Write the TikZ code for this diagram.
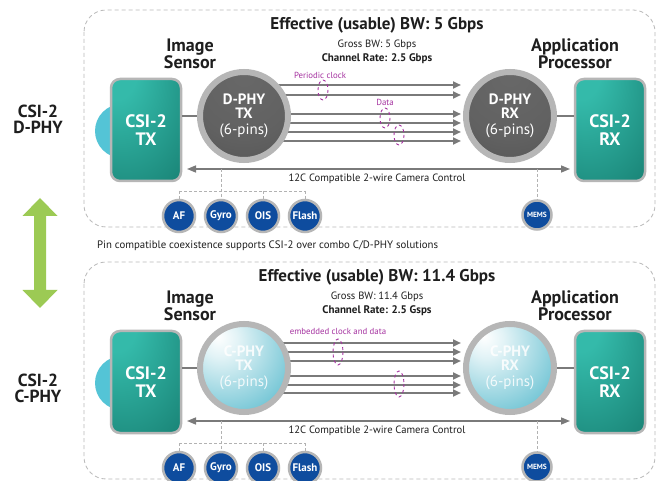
\documentclass[tikz,border=0pt]{standalone}
\usepackage{fontspec}
\setmainfont{PT Sans}
\usetikzlibrary{arrows.meta,calc}
\definecolor{ringgray}{RGB}{182,182,182}
\definecolor{tealL}{RGB}{52,186,170}
\definecolor{tealD}{RGB}{12,104,92}
\definecolor{lblue}{RGB}{84,196,214}
\definecolor{dgrayT}{RGB}{104,104,104}
\definecolor{dgrayB}{RGB}{70,70,70}
\definecolor{cyanM}{RGB}{112,196,212}
\definecolor{cyanD}{RGB}{84,178,198}
\definecolor{scblue}{RGB}{14,76,158}
\definecolor{lpurple}{RGB}{165,50,160}
\definecolor{sigray}{RGB}{122,122,122}
\definecolor{agreen}{RGB}{156,202,84}
\definecolor{txt}{RGB}{30,30,30}
\pgfdeclareradialshading{tealsh}{\pgfpoint{-25bp}{35bp}}{color(0bp)=(tealL); color(15bp)=(tealL); color(75bp)=(tealD); color(100bp)=(tealD)}
\pgfdeclareradialshading{cphysh}{\pgfpoint{-15bp}{18bp}}{color(0bp)=(white); color(10bp)=(white!80!cyanM); color(40bp)=(cyanM); color(60bp)=(cyanD); color(100bp)=(cyanD)}
\pgfdeclareradialshading{dphysh}{\pgfpoint{0bp}{25bp}}{color(0bp)=(dgrayT); color(30bp)=(dgrayT!80!dgrayB); color(70bp)=(dgrayB); color(100bp)=(dgrayB)}
\tikzset{
  panel/.style={draw=gray!55, dash pattern=on 4pt off 3pt, line width=0.8pt, rounded corners=22},
  title/.style={text=txt, font=\bfseries\fontsize{17}{19}\selectfont, inner sep=0},
  small/.style={text=txt, font=\fontsize{10.6}{12}\selectfont, inner sep=0},
  smallb/.style={text=txt, font=\bfseries\fontsize{11}{12}\selectfont, inner sep=0},
  head/.style={text=txt, font=\bfseries\fontsize{18}{17}\selectfont, align=center, inner sep=0},
  plabel/.style={text=lpurple, font=\fontsize{8.8}{10}\selectfont, inner sep=0},
  pell/.style={draw=lpurple, dashed, line width=0.9pt},
  csibox/.style={draw=ringgray, line width=2.5pt, rounded corners=9, minimum width=70, minimum height=102, shading=tealsh, text=white, font=\bfseries\fontsize{18}{18}\selectfont, align=center},
  tphy/.style={circle, draw=ringgray, line width=6pt, minimum size=88, inner sep=0, shading=dphysh, text=white, font=\fontsize{15}{15}\selectfont, align=center},
  bphy/.style={circle, draw=ringgray, line width=6pt, minimum size=88, inner sep=0, shading=cphysh, text=white, text opacity=0.85, font=\fontsize{15}{15}\selectfont, align=center},
  sig/.style={draw=sigray, line width=2pt, -{Triangle[length=8pt,width=7pt]}},
  wire/.style={draw=sigray, line width=2pt},
  ctrl/.style={draw=sigray, line width=1.5pt, {Triangle[length=9pt,width=7pt]}-{Triangle[length=9pt,width=7pt]}},
  dline/.style={draw=gray!60, dash pattern=on 3pt off 2pt, line width=0.9pt},
  sc/.style={circle, draw=ringgray, line width=2.5pt, fill=scblue, minimum size=32, inner sep=0, text=white, font=\bfseries\fontsize{11}{12}\selectfont},
  scm/.style={sc, minimum size=29, font=\bfseries\fontsize{7.5}{8}\selectfont},
}
\newcommand\csipanel[7]{%
\begin{scope}[shift={(0,#2)}]
  \draw[panel] (84,10) rectangle (655,227);
  \node[title] (#1title) at (377,25) {Effective (usable) BW: #4};
  \node[small] (#1gross) at (377,45) {Gross BW: #5};
  \node[smallb] (#1rate) at (377,59) {Channel Rate: #6};
  \node[head] (#1is) at (190,54) {Image\\Sensor};
  \node[head] (#1ap) at (575,54) {Application\\Processor};
  \fill[lblue] (122,131) circle (27);
  \coordinate (#1txc) at (244,116);
  \coordinate (#1rxc) at (510,116);
  \coordinate (#1end) at (461,0);
  \foreach \yy in {#7} \draw[sig] (#1txc |- 0,\yy) -- (#1end |- 0,\yy);
  \node[csibox] (#1tx) at (146,130) {CSI-2\\TX};
  \node[csibox] (#1rx) at (610,130) {CSI-2\\RX};
  \draw[wire] (#1tx.east |- #1txc) -- (#1txc);
  \draw[wire] (#1rxc) -- (#1rx.west |- #1rxc);
  \node[#1phy] (#1txp) at (#1txc) {\textbf{#3}\\[-1pt]\textbf{TX}\\[1pt](6-pins)};
  \node[#1phy] (#1rxp) at (#1rxc) {\textbf{#3}\\[-1pt]\textbf{RX}\\[1pt](6-pins)};
  \coordinate (#1cl) at (187,169);
  \coordinate (#1cr) at (570,169);
  \draw[ctrl] (#1cl) -- (#1cr);
  \node[small] (#1ctl) at (377,179) {12C Compatible 2-wire Camera Control};
  \node[sc] (#1af) at (179,216) {AF};
  \node[sc] (#1gyro) at (221,216) {Gyro};
  \node[sc] (#1ois) at (263,216) {OIS};
  \node[sc] (#1flash) at (305,216) {Flash};
  \node[scm] (#1mems) at (537,215) {MEMS};
  \coordinate (#1bus) at (0,191);
  \draw[dline] (#1af |- #1bus) -- (#1flash |- #1bus);
  \draw[dline] (#1gyro |- #1cl) -- (#1gyro.north);
  \draw[dline] (#1af |- #1bus) -- (#1af.north);
  \draw[dline] (#1ois |- #1bus) -- (#1ois.north);
  \draw[dline] (#1flash |- #1bus) -- (#1flash.north);
  \draw[dline] (#1mems |- #1cl) -- (#1mems.north);
\end{scope}}
\begin{document}
\begin{tikzpicture}[x=1pt,y=-1pt]
\useasboundingbox[fill=white] (0,0) rectangle (662,481);
\csipanel{t}{0}{D-PHY}{5 Gbps}{5 Gbps}{2.5 Gbps}{85,95,114,123,132,141}
\csipanel{b}{252}{C-PHY}{11.4 Gbps}{11.4 Gbps}{2.5 Gsps}{91,100,109,124,133,141}
% top panel annotations
\node[plabel] (tpc) at (320,75) {Periodic clock};
\draw[pell] (323,90) ellipse [x radius=5, y radius=10];
\node[plabel] (tdata) at (385,102) {Data};
\draw[pell] (385,118) ellipse [x radius=5, y radius=10];
\draw[pell] (399,135) ellipse [x radius=5, y radius=10];
% bottom panel annotations
\node[plabel] (bemb) at (338,331) {embedded clock and data};
\draw[pell] (338,352) ellipse [x radius=5, y radius=13];
\draw[pell] (399,384) ellipse [x radius=5, y radius=13];
% left labels
\node[head, font=\bfseries\fontsize{17.5}{16}\selectfont] (ld) at (38,119) {CSI-2\\D-PHY};
\node[head, font=\bfseries\fontsize{17.5}{16}\selectfont] (lc) at (38,388) {CSI-2\\C-PHY};
\fill[agreen] (40,198) -- (57.5,216) -- (46,216) -- (46,290) -- (57.5,290) -- (40,308) -- (22.5,290) -- (34,290) -- (34,216) -- (22.5,216) -- cycle;
\node[anchor=west, text=txt, font=\fontsize{10.8}{12}\selectfont, inner sep=0] (pin) at (97,246) {Pin compatible coexistence supports CSI-2 over combo C/D-PHY solutions};
\end{tikzpicture}
\end{document}
